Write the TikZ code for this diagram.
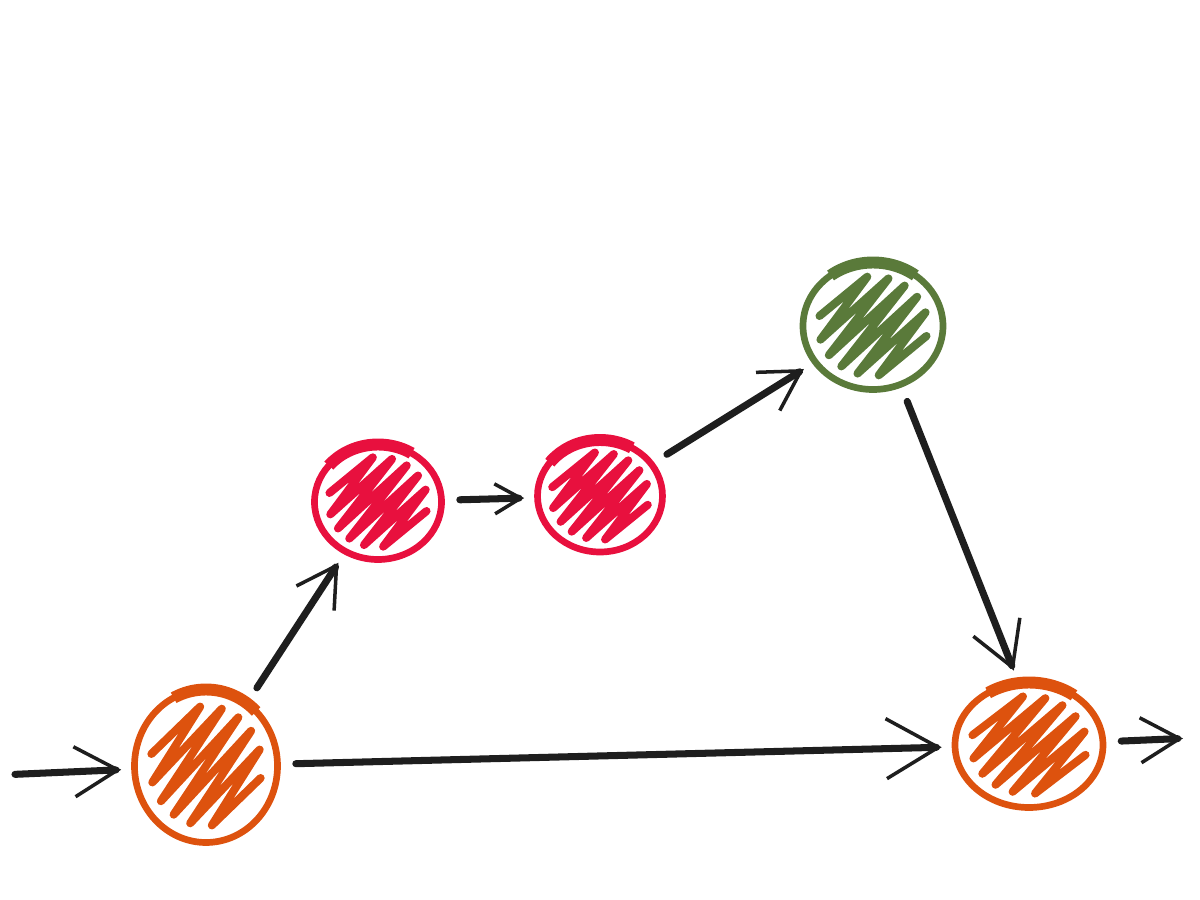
\documentclass[tikz,border=0pt]{standalone}
\usetikzlibrary{shapes.geometric,arrows.meta,positioning,calc}
\definecolor{sketchorange}{RGB}{221,82,14}
\definecolor{sketchred}{RGB}{232,16,62}
\definecolor{sketchgreen}{RGB}{90,122,58}
\definecolor{ink}{RGB}{30,30,30}

\begin{document}
\begin{tikzpicture}[
    blob/.style={ellipse,draw=#1,line width=1.9pt,inner sep=0pt,
      postaction={draw=#1,line width=3.4pt,line cap=butt,
                  dash pattern=on 0pt off 0.6cm on 0.9cm off 20cm},
      path picture={
        \pgfmathsetmacro\hx{0.39*\pgfkeysvalueof{/pgf/minimum width}}
        \pgfmathsetmacro\hy{0.39*\pgfkeysvalueof{/pgf/minimum height}}
        \draw[#1,line width=2.3pt,line cap=round,line join=round,
              shift={(path picture bounding box.center)}]
          plot[samples at={-5,...,6}]
          ({\hx*(0.766*0.16*(\x-0.5)+0.643*cos(180*\x)*sqrt(1-(0.16*(\x-0.5))^2))*1pt},
           {\hy*(-0.643*0.16*(\x-0.5)+0.766*cos(180*\x)*sqrt(1-(0.16*(\x-0.5))^2))*1pt});
      }},
    arr/.style={-{Straight Barb[angle=60:#1,line width=1pt]},
                line width=2pt,color=ink,line cap=round,
                shorten <=0.15cm,shorten >=0.1cm},
    arr/.default=5mm
  ]
  \useasboundingbox (0,0) rectangle (12,9);

  \node[blob=sketchorange,minimum width=1.43cm,minimum height=1.53cm] (start) at (2.06,1.34) {};
  \node[blob=sketchred,minimum width=1.27cm,minimum height=1.15cm] (stepa) at (3.78,3.98) {};
  \node[blob=sketchred,minimum width=1.25cm,minimum height=1.12cm] (stepb) at (6.00,4.04) {};
  \node[blob=sketchgreen,minimum width=1.40cm,minimum height=1.27cm] (peak) at (8.73,5.74) {};
  \node[blob=sketchorange,minimum width=1.48cm,minimum height=1.25cm] (merge) at (10.29,1.55) {};

  \coordinate (entry) at (0,1.25);
  \coordinate (exit) at (11.93,1.62);

  \draw[arr=5mm] (entry) -- (start);
  \draw[arr=4.5mm] (start) -- (stepa);
  \draw[arr=3mm] (stepa) -- (stepb);
  \draw[arr=4.5mm] (stepb) -- (peak);
  \draw[arr=5mm] (peak.-65) -- (merge.100);
  \draw[arr=6mm] (start) -- (merge);
  \draw[arr=4.5mm] (merge) -- (exit);
\end{tikzpicture}
\end{document}
